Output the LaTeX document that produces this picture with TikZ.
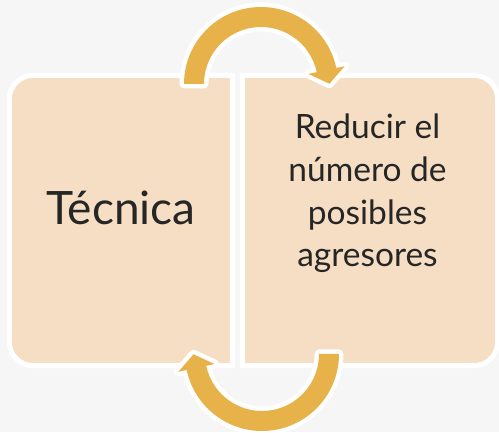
\documentclass[tikz,border=0pt]{standalone}
\usepackage{fontspec}
\setmainfont{Lato}
\usetikzlibrary{calc}
\definecolor{fondo}{HTML}{F6F6F6}
\definecolor{durazno}{HTML}{F5DEC3}
\definecolor{oro}{HTML}{E8B24A}
\definecolor{tinta}{HTML}{262626}

\begin{document}
\begin{tikzpicture}[x=1pt, y=1pt,
	caja/.style={draw=white, line width=5pt, fill=durazno},
	flecha/.style={fill=oro, preaction={draw=white, line width=9pt, line join=round}}]
			\useasboundingbox (0,0) rectangle (499,432);
			\fill[fondo] (0,0) rectangle (499,432);
			\node[minimum width=223pt, minimum height=290pt, inner sep=0pt] at(121,211.5) (izq) {};
			\node[minimum width=255pt, minimum height=290pt, inner sep=0pt] at(370,211.5) (der) {};
			
			\draw[caja] (izq.north east) -- ([xshift=24pt]izq.north west) arc[start angle=90, end angle=180, radius=24] -- ([yshift=24pt]izq.south west) arc[start angle=180, end angle=270, radius=24] -- (izq.south east) -- cycle;
			\draw[caja] (der.north west) -- ([xshift=-24pt]der.north east) arc[start angle=90, end angle=0, radius=24] -- ([yshift=24pt]der.south east) arc[start angle=0, end angle=-90, radius=24] -- (der.south west) -- cycle;
			
			\node[text=tinta, font=\fontsize{46}{55}\selectfont, anchor=base] at([yshift=-4.5pt]izq.center) (tecnica) {Técnica};
			\node[text=tinta, font=\fontsize{33.5}{42.7}\selectfont, align=center, anchor=base] at(367.5,165) (reducir) {Reducir el\\número de\\posibles\\agresores};
			
			\coordinate (arriba) at (261,348);
			\coordinate (abajo) at (262,78);
			\coordinate (punta1) at ($(arriba)+(12:67)+(-78:14)$);
			\coordinate (punta2) at ($(abajo)+(192:67)+(102:14)$);
			\fill[flecha] ($(arriba)+(180:77)$) arc[start angle=180, end angle=12, radius=77] -- ($(arriba)+(12:85.5)$) -- (punta1) -- ($(arriba)+(12:48.5)$) -- ($(arriba)+(12:57)$) arc[start angle=12, end angle=180, radius=57] -- cycle;
			\fill[flecha] ($(abajo)+(0:77)$) arc[start angle=0, end angle=-168, radius=77] -- ($(abajo)+(192:85.5)$) -- (punta2) -- ($(abajo)+(192:48.5)$) -- ($(abajo)+(192:57)$) arc[start angle=-168, end angle=0, radius=57] -- cycle;
\end{tikzpicture}
\end{document}
